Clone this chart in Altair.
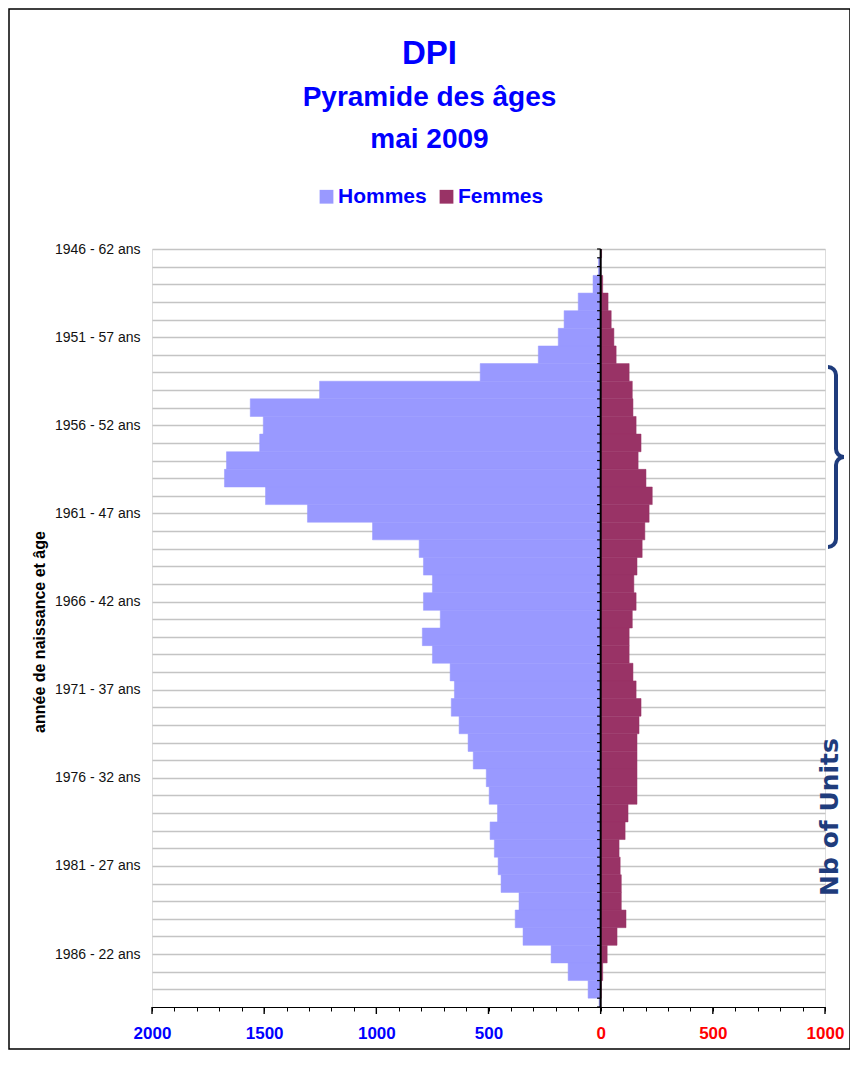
import altair as alt
import pandas as pd

# ---------------- data ----------------
years = list(range(1946, 1990))
hommes = [0, 10, 34, 100, 163, 189, 278, 537, 1253, 1562,
          1504, 1520, 1668, 1677, 1494, 1307, 1017, 809, 790, 750,
          790, 715, 795, 750, 671, 652, 666, 631, 591, 568,
          510, 497, 460, 493, 474, 457, 444, 364, 381, 346,
          221, 145, 56, 7]
femmes = [4, 0, 9, 33, 47, 59, 69, 127, 141, 144,
          158, 180, 167, 202, 230, 216, 197, 185, 162, 148,
          158, 141, 127, 127, 144, 158, 180, 171, 162, 162,
          162, 162, 122, 109, 82, 87, 92, 92, 113, 73,
          29, 9, 3, 0]
series_names = ["Hommes", "Femmes"]
series_colors = ["#9999FF", "#993366"]
title_lines = ["DPI", "Pyramide des âges", "mai 2009"]
y_title = "année de naissance et âge"
y_label_years = [1946, 1951, 1956, 1961, 1966, 1971, 1976, 1981, 1986]
y_label_texts = ["1946 - 62 ans", "1951 - 57 ans", "1956 - 52 ans", "1961 - 47 ans",
                 "1966 - 42 ans", "1971 - 37 ans", "1976 - 32 ans", "1981 - 27 ans",
                 "1986 - 22 ans"]
x_tick_values = [-2000, -1500, -1000, -500, 0, 500, 1000]
x_tick_labels = ["2000", "1500", "1000", "500", "0", "500", "1000"]
side_note = "Nb of Units"

rows = []
for yr, h, f in zip(years, hommes, femmes):
    rows.append({"annee": yr, "sexe": series_names[0], "valeur": -h})
    rows.append({"annee": yr, "sexe": series_names[1], "valeur": f})
df = pd.DataFrame(rows)


def chain(values, labels):
    expr = "''"
    for v, l in reversed(list(zip(values, labels))):
        expr = f"datum.value == {v} ? '{l}' : ({expr})"
    return expr


FONT = "Liberation Sans"
BLUE = "#0000FF"
NAVY = "#1F3C7C"

xscale = alt.Scale(domain=[-2000, 1000], nice=False, zero=False)
yscale = alt.Scale(domain=[1946, 1989], reverse=True, nice=False, zero=False)

x_axis = alt.Axis(
    values=list(range(-2000, 1001, 100)), tickCount=200,
    labelExpr=chain(x_tick_values, x_tick_labels),
    labelColor={"condition": {"test": "datum.value < 0", "value": BLUE}, "value": "#FF0000"},
    labelFont=FONT, labelFontSize=17, labelFontWeight="bold",
    labelPadding=14, labelFlush=False, labelOverlap=False,
    tickSize=4, tickColor="black", tickWidth=1,
    domainColor="black", domainWidth=1.2, grid=False, title=None,
)
y_axis = alt.Axis(
    values=years[:-1], tickCount=200,
    labelExpr=chain(y_label_years, y_label_texts),
    grid=True, gridColor="#C4C4C4", gridWidth=1.5,
    ticks=False, domain=False,
    labelFont=FONT, labelFontSize=14, labelColor="#111111",
    labelPadding=12, labelOverlap=False, labelFlush=False, title=None,
)

bars = alt.Chart(df).transform_calculate(
    y0="datum.annee - 0.5", y1="datum.annee + 0.5"
).mark_rect(clip=True, strokeWidth=0.5).encode(
    x=alt.X("valeur:Q", scale=xscale, axis=x_axis),
    x2=alt.datum(0),
    y=alt.Y("y0:Q", scale=yscale, axis=y_axis),
    y2="y1:Q",
    color=alt.Color(
        "sexe:N",
        scale=alt.Scale(domain=series_names, range=series_colors),
        legend=alt.Legend(
            orient="none", legendX=164, legendY=-63, direction="horizontal",
            title=None, symbolType="square", symbolSize=190, symbolStrokeWidth=0,
            labelFont=FONT, labelFontSize=21, labelFontWeight="bold",
            labelColor=BLUE, labelOffset=1, columnPadding=9, padding=0, labelLimit=0,
        ),
    ),
    stroke=alt.Stroke("sexe:N", scale=alt.Scale(domain=series_names, range=series_colors), legend=None),
)

tick_pos = [years[0] + 0.5 * i for i in range(2 * (years[-1] - years[0]) + 1)]
zero_ticks = alt.Chart(pd.DataFrame({"pos": tick_pos})).mark_rule(
    color="black", strokeWidth=1.2
).encode(
    x=alt.datum(-16), x2=alt.datum(0), y=alt.Y("pos:Q", scale=yscale)
)
zero_line = alt.Chart(pd.DataFrame({"v": [0]})).mark_rule(
    color="black", strokeWidth=2
).encode(x=alt.X("v:Q", scale=xscale))

major_ticks = alt.Chart(pd.DataFrame({"v": x_tick_values})).mark_rule(
    color="black", strokeWidth=1.4
).encode(
    x=alt.X("v:Q", scale=xscale), y=alt.value(758), y2=alt.value(765)
)


def text_layer(txt, x, y, size, color, weight="bold", angle=0, font=FONT):
    return alt.Chart(pd.DataFrame({"t": [txt]})).mark_text(
        fontSize=size, font=font, fontWeight=weight, color=color,
        angle=angle, align="center", baseline="middle",
    ).encode(text="t:N", x=alt.value(x), y=alt.value(y))


t1 = text_layer(title_lines[0], 277.5, -195, 33, BLUE)
t2 = text_layer(title_lines[1], 277.5, -151, 28, BLUE)
t3 = text_layer(title_lines[2], 277.5, -109.5, 28, BLUE)
ytitle = text_layer(y_title, -112, 383, 16, "black", angle=270)
note = text_layer(side_note, 678, 568, 25, NAVY, angle=270, font="DejaVu Sans")

one = pd.DataFrame({"k": [0]})


def arc(cx, cy, t0, t1_):
    return alt.Chart(one).mark_arc(
        color=NAVY, innerRadius=6, outerRadius=10, theta=t0, theta2=t1_
    ).encode(x=alt.value(cx), y=alt.value(cy))


def seg(x, y0, y1):
    return alt.Chart(one).mark_rule(color=NAVY, strokeWidth=4).encode(
        x=alt.value(x), y=alt.value(y0), y2=alt.value(y1)
    )


PI = 3.141592653589793
brace = [
    arc(676, 126, 0.0, PI / 2),
    seg(684, 126, 200),
    arc(692, 200, PI, 1.5 * PI),
    arc(692, 216, 1.5 * PI, 2 * PI),
    seg(684, 216, 290),
    arc(676, 290, PI / 2, PI),
]

frame = alt.Chart(one).mark_rect(fillOpacity=0, stroke="black", strokeWidth=1.5).encode(
    x=alt.value(-143), x2=alt.value(698), y=alt.value(-240), y2=alt.value(800)
)

chart = alt.layer(
    bars, zero_line, zero_ticks, major_ticks, t1, t2, t3, ytitle, note, *brace, frame
).properties(
    width=673, height=758,
    padding={"left": 144, "top": 241, "right": 25, "bottom": 44},
    autosize=alt.AutoSizeParams(type="none"),
).configure_view(stroke=None).configure(background="white")

chart.save("out.html", embed_options={"renderer": "svg", "actions": False})
